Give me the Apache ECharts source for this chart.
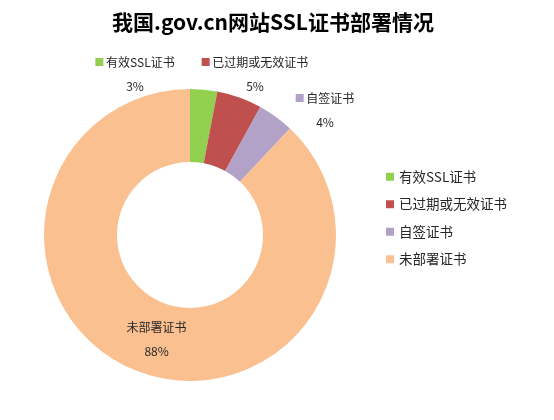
<!DOCTYPE html>
<html>
<head>
<meta charset="utf-8">
<script src="https://cdn.jsdelivr.net/npm/echarts@6/dist/echarts.min.js"></script>
<style>
html, body { margin: 0; padding: 0; background: #fff; }
#main { width: 554px; height: 420px; }
</style>
</head>
<body>
<div id="main"></div>
<script>
(function() {
	'use strict';

	// DATA
	var categories = ['有效SSL证书', '已过期或无效证书', '自签证书', '未部署证书'];
	var values = [3, 5, 4, 88];
	var colors = ['#92d050', '#c0504d', '#b3a2c7', '#fac090'];

	var font = '"Noto Sans CJK SC", "Microsoft YaHei", sans-serif';

	// label spots for the small slices (outside, as placed in the original)
	var labelSpots = {
		0: [135, 74],
		1: [255, 74],
		2: [325, 110]
	};

	var pieData = categories.map(function(name, i) {
		var item = {
			name: name,
			value: values[i],
			itemStyle: { color: colors[i] }
		};
		if (i === 3) {
			item.label = {
				position: 'inside',
				formatter: '{n|{b}}\n{p|{d}%}'
			};
		} else {
			item.label = {
				position: 'outside',
				formatter: '{k' + i + '|}{n| {b}}\n{p|{d}%}'
			};
		}
		return item;
	});

	var rich = {
		n: { fontSize: 12, color: '#262626', fontFamily: font, lineHeight: 24 },
		p: { fontSize: 12, color: '#262626', fontFamily: font, lineHeight: 24 }
	};
	colors.forEach(function(c, i) {
		rich['k' + i] = { backgroundColor: c, width: 8, height: 8 };
	});

	var chart = echarts.init(document.getElementById('main'));
	var option = {
		animation: false,
		title: {
			text: '我国.gov.cn网站SSL证书部署情况',
			left: 268,
			textAlign: 'center',
			top: 7,
			textStyle: {
				fontSize: 21,
				fontWeight: 'bold',
				color: '#000',
				fontFamily: font
			}
		},
		legend: {
			orient: 'vertical',
			left: 381,
			top: 165,
			itemWidth: 8,
			itemHeight: 8,
			itemGap: 14,
			icon: 'rect',
			data: categories,
			textStyle: {
				fontSize: 13.5,
				color: '#262626',
				fontFamily: font
			}
		},
		series: [{
			type: 'pie',
			center: [190, 235],
			radius: [73, 146],
			startAngle: 90,
			clockwise: true,
			avoidLabelOverlap: false,
			labelLine: { show: false },
			label: {
				rich: rich,
				align: 'center'
			},
			labelLayout: function(params) {
				var spot = labelSpots[params.dataIndex];
				if (!spot) return { dx: 8 };
				return { x: spot[0], y: spot[1], align: 'center', verticalAlign: 'middle' };
			},
			data: pieData
		}]
	};
	chart.setOption(option);
})();
</script>
</body>
</html>
